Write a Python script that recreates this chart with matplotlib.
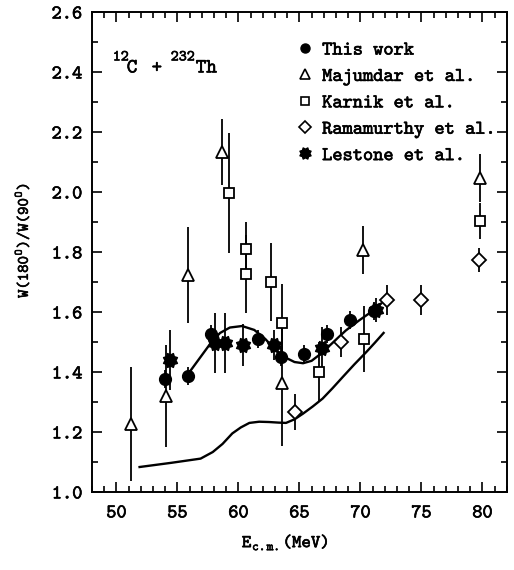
import numpy as np
import matplotlib
matplotlib.use('Agg')
import matplotlib.pyplot as plt
import matplotlib.patheffects as pe
from matplotlib.lines import Line2D
from matplotlib.path import Path
from matplotlib.transforms import offset_copy
from matplotlib.ticker import MultipleLocator

# This work
tw_E = [54.0, 55.9, 57.75, 61.6, 63.5, 65.4, 67.3, 69.15, 71.1]
tw_W = [1.375, 1.387, 1.528, 1.511, 1.451, 1.460, 1.528, 1.573, 1.603]
tw_err = [0.03, 0.03, 0.03, 0.03, 0.03, 0.03, 0.03, 0.03, 0.03]

# Majumdar et al.
maj_E = [51.2, 54.1, 55.9, 58.65, 63.6, 70.25, 79.8]
maj_W = [1.228, 1.32, 1.722, 2.133, 1.362, 1.806, 2.045]
maj_err = [0.19, 0.17, 0.16, 0.11, 0.21, 0.08, 0.08]

# Karnik et al.
kar_E = [59.2, 60.6, 60.6, 62.7, 63.6, 66.6, 70.3, 79.8]
kar_W = [1.997, 1.811, 1.728, 1.700, 1.563, 1.401, 1.509, 1.903]
kar_err = [0.20, 0.09, 0.13, 0.13, 0.13, 0.10, 0.11, 0.06]

# Ramamurthy et al.
ram_E = [64.67, 68.4, 72.2, 74.97, 79.75]
ram_W = [1.268, 1.501, 1.641, 1.641, 1.772]
ram_err = [0.06, 0.05, 0.05, 0.05, 0.04]

# Lestone et al.
les_E = [54.4, 58.1, 58.9, 60.4, 62.9, 66.85, 71.3]
les_W = [1.441, 1.497, 1.497, 1.489, 1.490, 1.479, 1.607]
les_err = [0.10, 0.10, 0.10, 0.07, 0.05, 0.07, 0.04]

# calculations (solid curves)
upper_E = [56.0, 56.9, 57.8, 58.5, 59.3, 60.3, 61.3, 62.2, 63.0, 63.9, 64.6,
           65.3, 66.0, 66.8, 67.8, 68.8, 69.9, 71.0, 71.7]
upper_W = [1.40, 1.45, 1.50, 1.53, 1.548, 1.553, 1.54, 1.51, 1.475, 1.447,
           1.433, 1.429, 1.437, 1.462, 1.50, 1.538, 1.572, 1.603, 1.628]
lower_E = [51.9, 54.5, 56.9, 57.9, 58.7, 59.5, 60.2, 60.9, 61.7, 62.5, 63.3,
           63.9, 64.6, 65.3, 66.1, 66.9, 67.7, 68.55, 69.5, 70.5, 71.2, 71.9]
lower_W = [1.083, 1.097, 1.111, 1.133, 1.16, 1.195, 1.215, 1.23, 1.234, 1.233,
           1.231, 1.23, 1.242, 1.261, 1.285, 1.311, 1.345, 1.383, 1.425,
           1.467, 1.498, 1.53]

plt.rcParams['font.family'] = ['cmtt10', 'DejaVu Sans Mono']
plt.rcParams['mathtext.fontset'] = 'custom'
plt.rcParams['mathtext.rm'] = 'cmtt10'
plt.rcParams['mathtext.it'] = 'cmtt10'
plt.rcParams['axes.unicode_minus'] = False

# sunburst marker for Lestone points
ang = np.linspace(0, 2 * np.pi, 17)[:-1] + np.pi / 8
rad = np.where(np.arange(16) % 2 == 0, 1.0, 0.72)
verts = np.column_stack([rad * np.cos(ang), rad * np.sin(ang)])
verts = np.vstack([verts, verts[:1]])
sun = Path(verts, [Path.MOVETO] + [Path.LINETO] * 15 + [Path.CLOSEPOLY])

bold = [pe.withStroke(linewidth=0.45, foreground='black')]

fig = plt.figure(figsize=(5.14, 5.70), dpi=100)
ax = fig.add_axes([0.179, 0.137, 0.807, 0.842])

ax.plot(upper_E, upper_W, color='black', lw=1.7)
ax.plot(lower_E, lower_W, color='black', lw=1.7)

eb = dict(ecolor='black', elinewidth=1.3, capsize=0, linestyle='none')
ax.errorbar(maj_E, maj_W, yerr=maj_err, marker='^', ms=8.5, mfc='white',
            mec='black', mew=1.3, **eb)
ax.errorbar(kar_E, kar_W, yerr=kar_err, marker='s', ms=7, mfc='white',
            mec='black', mew=1.3, **eb)
ax.errorbar(ram_E, ram_W, yerr=ram_err, marker='D', ms=7.5, mfc='white',
            mec='black', mew=1.3, **eb)
ax.errorbar(les_E, les_W, yerr=les_err, marker=sun, ms=10, mfc='black',
            mec='black', **eb)
ax.errorbar(tw_E, tw_W, yerr=tw_err, marker='o', ms=8.5, mfc='black',
            mec='black', **eb)

handles = [
    Line2D([], [], ls='none', marker='o', ms=6.5, mfc='black', mec='black'),
    Line2D([], [], ls='none', marker='^', ms=6.5, mfc='white', mec='black', mew=1.2),
    Line2D([], [], ls='none', marker='s', ms=5.5, mfc='white', mec='black', mew=1.2),
    Line2D([], [], ls='none', marker='D', ms=6, mfc='white', mec='black', mew=1.2),
    Line2D([], [], ls='none', marker=sun, ms=8, mfc='black', mec='black'),
]
labels = ['This work', 'Majumdar et al.', 'Karnik et al.',
          'Ramamurthy et al.', 'Lestone et al.']
leg = ax.legend(handles, labels, loc='upper left',
                bbox_to_anchor=(0.461, 0.968), frameon=False,
                fontsize=14, handlelength=0.8, handletextpad=0.5,
                labelspacing=0.4, borderpad=0.2)
for t in leg.get_texts():
    t.set_path_effects(bold)

# reaction label: small raised mass numbers, larger element symbols
pieces = [('12', 0, 12, 11), ('C', 14, 0, 14.5), ('+', 39, 0, 14),
          ('232', 58, 12, 11), ('Th', 83, 0, 14.5)]
for txt, dx, dy, fs in pieces:
    tr = offset_copy(ax.transAxes, fig=fig, x=dx, y=dy, units='dots')
    ax.text(0.05, 0.874, txt, transform=tr, fontsize=fs,
            va='baseline', path_effects=bold)

ax.set_xlim(48, 82)
ax.set_ylim(1.0, 2.6)
ax.xaxis.set_major_locator(MultipleLocator(5))
ax.xaxis.set_minor_locator(MultipleLocator(1))
ax.yaxis.set_major_locator(MultipleLocator(0.2))
ax.yaxis.set_minor_locator(MultipleLocator(0.1))
ax.yaxis.set_major_formatter(plt.FormatStrFormatter('%.1f'))
ax.tick_params(which='both', direction='in', top=True, right=True,
               labelsize=14, width=1.2)
ax.tick_params(which='major', length=7)
ax.tick_params(which='minor', length=4)
ax.tick_params(axis='x', pad=9)
ax.tick_params(axis='y', pad=7)
for s in ax.spines.values():
    s.set_linewidth(1.4)
for lab in ax.get_xticklabels() + ax.get_yticklabels():
    lab.set_path_effects(bold)

ax.set_xlabel(r'E$_{\mathrm{c.m.}}$(MeV)', fontsize=13, path_effects=bold)
ax.xaxis.set_label_coords(0.466, -0.084)
ax.set_ylabel(r'W(180$^{\mathrm{O}}$)/W(90$^{\mathrm{O}}$)', fontsize=11.5,
              path_effects=bold)
ax.yaxis.set_label_coords(-0.145, 0.524)

fig.savefig('out.png', dpi=100)
